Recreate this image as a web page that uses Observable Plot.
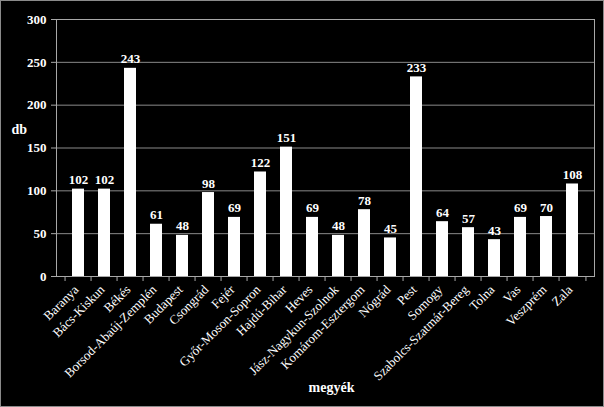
<!DOCTYPE html>
<html><head><meta charset="utf-8">
<script src="https://cdn.jsdelivr.net/npm/d3@7"></script>
<script src="https://cdn.jsdelivr.net/npm/@observablehq/plot@0.6"></script>
<style>
html,body{margin:0;padding:0;background:#000;}
#chart svg{display:block;outline:1px solid #8a8a8a;outline-offset:-1px;}
</style></head><body><div id="chart"></div>
<script>
const counties = ["Baranya","Bács-Kiskun","Békés","Borsod-Abaúj-Zemplén","Budapest","Csongrád","Fejér","Győr-Moson-Sopron","Hajdú-Bihar","Heves","Jász-Nagykun-Szolnok","Komárom-Esztergom","Nógrád","Pest","Somogy","Szabolcs-Szatmár-Bereg","Tolna","Vas","Veszprém","Zala"];
const counts = [102,102,243,61,48,98,69,122,151,69,48,78,45,233,64,57,43,69,70,108];
const yTicks = [0,50,100,150,200,250,300];
const yLabel = "db";
const xLabel = "megyék";

const data = counties.map((c,i)=>({county:c, count:counts[i]}));
const W=604,H=407,ML=56,MR=10,MT=19,MB=131;
const half = (W-ML-MR)/counties.length/2;
const font = "'Liberation Serif','Times New Roman',serif";
const lineCol = "#a8a8a8";

const plot = Plot.plot({
  width:W, height:H, marginLeft:ML, marginRight:MR, marginTop:MT, marginBottom:MB,
  style:{background:"#000", color:"#fff", fontFamily:font, fontSize:"13px"},
  x:{domain:counties, padding:0.55, axis:null},
  y:{domain:[0,300], axis:null},
  marks:[
    Plot.gridY(yTicks.filter(d=>d>0&&d<300), {stroke:"#8a8a8a", strokeOpacity:1}),
    Plot.barY(data,{x:"county", y:"count", fill:"#fff"}),
    Plot.text(data,{x:"county", y:"count", text:d=>String(d.count), lineAnchor:"bottom", dy:-5, fill:"#fff", fontWeight:"bold", fontSize:13}),
    Plot.frame({stroke:lineCol}),
    Plot.axisY(yTicks,{tickSize:5, tickFormat:()=>"", stroke:lineCol, label:null}),
    Plot.axisY(yTicks,{tickSize:0, tickPadding:10, fill:"#fff", fontWeight:"bold", fontSize:13, label:null}),
    Plot.axisX(counties,{tickSize:5, dx:-half, tickFormat:()=>"", stroke:lineCol, label:null}),
    Plot.axisX([counties[counties.length-1]],{tickSize:5, dx:half, tickFormat:()=>"", stroke:lineCol, label:null}),
    Plot.axisX(counties,{tickSize:0, tickPadding:11, dx:-2, tickRotate:-45, fill:"#fff", fontSize:13, label:null}),
    Plot.text([yLabel],{frameAnchor:"left", dx:-45, dy:-18, fill:"#fff", fontWeight:"bold", fontSize:14}),
    Plot.text([xLabel],{frameAnchor:"bottom", dx:6, dy:115, fill:"#fff", fontWeight:"bold", fontSize:14})
  ]
});
document.getElementById("chart").appendChild(plot);
</script></body></html>
